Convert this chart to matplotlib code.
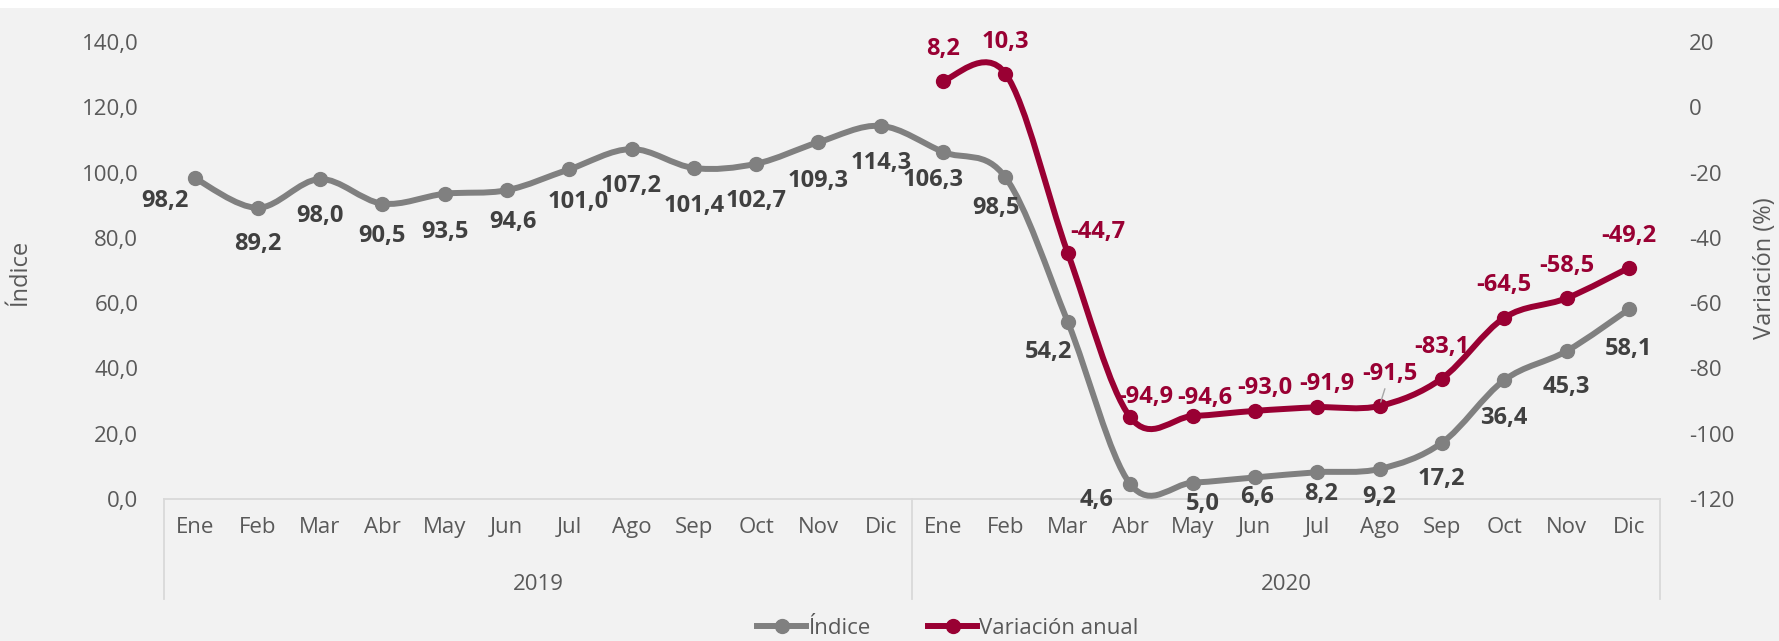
import matplotlib.pyplot as plt
import numpy as np
from matplotlib.lines import Line2D
from matplotlib.patches import PathPatch, Rectangle
from matplotlib.path import Path

plt.rcParams["font.family"] = ["Open Sans", "DejaVu Sans"]

# ---------- data ----------
months = ["Ene", "Feb", "Mar", "Abr", "May", "Jun", "Jul", "Ago", "Sep", "Oct", "Nov", "Dic"]
years = ["2019", "2020"]

indice = [98.2, 89.2, 98.0, 90.5, 93.5, 94.6, 101.0, 107.2, 101.4, 102.7, 109.3, 114.3,
          106.3, 98.5, 54.2, 4.6, 5.0, 6.6, 8.2, 9.2, 17.2, 36.4, 45.3, 58.1]
# annual variation only exists for 2020
variacion = [8.2, 10.3, -44.7, -94.9, -94.6, -93.0, -91.9, -91.5, -83.1, -64.5, -58.5, -49.2]

left_ticks = [0, 20, 40, 60, 80, 100, 120, 140]
right_ticks = [-120, -100, -80, -60, -40, -20, 0, 20]

# ---------- label layout (pixel offsets: dx, dy; +dy = down for indice, up for variacion) ----------
indice_offsets = [(-30, 23), (0, 36), (0, 37), (0, 32), (0, 38), (6, 32), (9, 33), (0, 37),
                  (0, 38), (0, 37), (0, 39), (0, 37), (-10, 28), (-10, 31), (-19, 30), (-34, 16),
                  (10, 21), (2, 20), (4, 22), (0, 28), (0, 36), (0, 38), (0, 36), (0, 40)]
variacion_offsets = [(0, 32), (0, 32), (30, 21), (16, 20), (12, 18), (10, 23), (10, 23),
                     (10, 32), (0, 32), (0, 33), (0, 32), (0, 32)]

GRAY = "#808080"
RED = "#990033"
TEXT = "#595959"
LABEL_DARK = "#404040"
AXIS_LINE = "#D9D9D9"
FS = 16
FS_LABEL = 17


def smooth_path(x, y):
    # Bezier smoothing like spreadsheet "smoothed line" (Catmull-Rom control points).
    x = np.asarray(x, float)
    y = np.asarray(y, float)
    n = len(x)
    verts = [(x[0], y[0])]
    codes = [Path.MOVETO]
    for i in range(n - 1):
        p0 = i - 1 if i > 0 else i
        p3 = i + 2 if i + 2 < n else i + 1
        c1 = (x[i] + (x[i + 1] - x[p0]) / 6, y[i] + (y[i + 1] - y[p0]) / 6)
        c2 = (x[i + 1] - (x[p3] - x[i]) / 6, y[i + 1] - (y[p3] - y[i]) / 6)
        verts += [c1, c2, (x[i + 1], y[i + 1])]
        codes += [Path.CURVE4] * 3
    return Path(verts, codes)


def fmt(v):
    return f"{v:.1f}".replace(".", ",")


# ---------- figure ----------
W, H = 1779, 641
fig = plt.figure(figsize=(W / 100, H / 100), dpi=100)
fig.patch.set_facecolor("white")
fig.add_artist(Rectangle((0, 0), 1, 1 - 8 / H, transform=fig.transFigure,
                         facecolor="#F2F2F2", edgecolor="none", zorder=-10))

left, right, top, bottom = 164, 1660, 42, 499
ax = fig.add_axes([left / W, 1 - bottom / H, (right - left) / W, (bottom - top) / H])
ax.set_facecolor("none")
ax2 = ax.twinx()

n_all = len(months) * len(years)
x_all = np.arange(n_all)
x_var = x_all[len(months):]

# index line
ax.add_patch(PathPatch(smooth_path(x_all, indice), facecolor="none", edgecolor=GRAY,
                       lw=4.3, capstyle="round", joinstyle="round", clip_on=False, zorder=3))
ax.plot(x_all, indice, "o", color=GRAY, ms=10, clip_on=False, zorder=4)

# variation line
ax2.add_patch(PathPatch(smooth_path(x_var, variacion), facecolor="none", edgecolor=RED,
                        lw=4.3, capstyle="round", joinstyle="round", clip_on=False, zorder=3))
ax2.plot(x_var, variacion, "o", color=RED, ms=10, clip_on=False, zorder=4)

# data labels
for xi, v, (dx, dy) in zip(x_all, indice, indice_offsets):
    ax.annotate(fmt(v), (xi, v), xytext=(dx, -dy), textcoords="offset pixels",
                ha="center", va="center", fontsize=FS_LABEL, fontweight="bold",
                color=LABEL_DARK, zorder=5)
for i, (xi, v, (dx, dy)) in enumerate(zip(x_var, variacion, variacion_offsets)):
    arrow = None
    if i == 7:
        arrow = dict(arrowstyle="-", color="#A6A6A6", lw=1, shrinkA=0, shrinkB=3)
    ax2.annotate(fmt(v), (xi, v), xytext=(dx, dy), textcoords="offset pixels",
                 ha="center", va="center", fontsize=FS_LABEL, fontweight="bold", color=RED,
                 arrowprops=arrow, zorder=5)

# axes ranges and ticks
ax.set_xlim(-0.5, n_all - 0.5)
ax.set_ylim(left_ticks[0], left_ticks[-1])
ax2.set_ylim(right_ticks[0], right_ticks[-1])

ax.set_yticks(left_ticks)
ax.set_yticklabels([fmt(t) for t in left_ticks])
ax2.set_yticks(right_ticks)
ax2.set_yticklabels([str(t) for t in right_ticks])
ax.set_xticks(x_all)
ax.set_xticklabels(months * len(years))

ax.tick_params(axis="y", length=0, pad=18.5, labelsize=FS, labelcolor=TEXT)
ax2.tick_params(axis="y", length=0, pad=21, labelsize=FS, labelcolor=TEXT)
ax.tick_params(axis="x", length=0, pad=13, labelsize=FS, labelcolor=TEXT)

for sp in ax.spines.values():
    sp.set_visible(False)
for sp in ax2.spines.values():
    sp.set_visible(False)
ax.spines["bottom"].set_visible(True)
ax.spines["bottom"].set_color(AXIS_LINE)
ax.spines["bottom"].set_linewidth(1.3)

# two-level category axis: year brackets and year labels
xt = ax.get_xaxis_transform()
depth = (599 - bottom) / (bottom - top)
for k in range(len(years) + 1):
    xb = k * len(months) - 0.5
    ax.plot([xb, xb], [0, -depth], transform=xt, color=AXIS_LINE, lw=1.3, clip_on=False)
for k, yr in enumerate(years):
    xc = k * len(months) + (len(months) - 1) / 2
    ax.text(xc, -(584 - bottom) / (bottom - top), yr, transform=xt, ha="center", va="center",
            fontsize=FS, color=TEXT)

# axis titles
fig.text(20 / W, 1 - 272 / H, "Índice", rotation=90, ha="center", va="center",
         fontsize=FS + 1, color=TEXT)
fig.text(1765 / W, 1 - 268 / H, "Variación (%)", rotation=90, ha="center", va="center",
         fontsize=FS + 1, color=TEXT)

# legend
handles = [
    Line2D([], [], color=GRAY, lw=4.3, marker="o", ms=10),
    Line2D([], [], color=RED, lw=4.3, marker="o", ms=10),
]
fig.legend(handles, ["Índice", "Variación anual"], loc="center",
           bbox_to_anchor=(948 / W, 1 - 628 / H), ncol=2, frameon=False,
           fontsize=FS, labelcolor=TEXT, handlelength=2.2, handletextpad=0.1,
           columnspacing=2.6)

fig.savefig("out.png", dpi=100, facecolor=fig.get_facecolor())
